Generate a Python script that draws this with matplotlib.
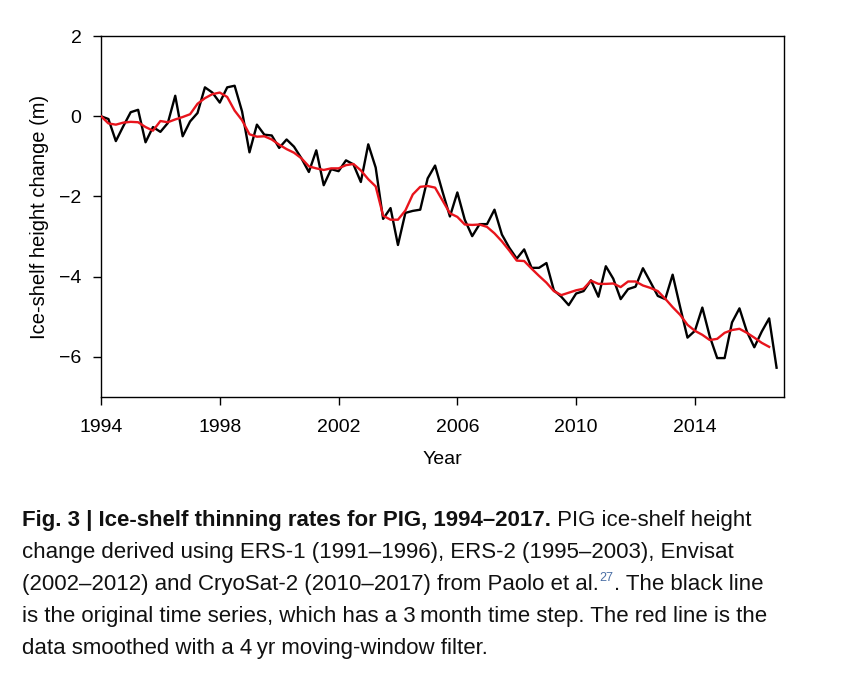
import matplotlib
matplotlib.use('Agg')
import matplotlib.pyplot as plt
import numpy as np

AX_FONT = 'Liberation Sans'
CAP_FONT = 'Liberation Sans'
plt.rcParams['font.family'] = [AX_FONT, 'DejaVu Sans']

# quarterly steps from 1994.0
START_YEAR = 1994.0
STEP = 0.25
HEIGHT_RAW = [
    0.00, -0.07, -0.62, -0.25, 0.10, 0.16, -0.65, -0.27, -0.39, -0.17,
    0.51, -0.50, -0.13, 0.08, 0.72, 0.59, 0.34, 0.72, 0.76, 0.12,
    -0.90, -0.21, -0.46, -0.48, -0.79, -0.58, -0.76, -1.05, -1.39, -0.85,
    -1.72, -1.32, -1.37, -1.10, -1.20, -1.64, -0.70, -1.28, -2.56, -2.29,
    -3.21, -2.41, -2.36, -2.33, -1.55, -1.23, -1.88, -2.50, -1.90, -2.58,
    -2.99, -2.69, -2.69, -2.33, -2.95, -3.28, -3.55, -3.32, -3.78, -3.78,
    -3.66, -4.34, -4.50, -4.71, -4.42, -4.36, -4.09, -4.50, -3.74, -4.05,
    -4.56, -4.31, -4.25, -3.79, -4.13, -4.48, -4.56, -3.95, -4.75, -5.52,
    -5.35, -4.77, -5.49, -6.03, -6.03, -5.14, -4.79, -5.37, -5.76, -5.37,
    -5.04, -6.27,
]
HEIGHT_SMOOTH = [
    0.00, -0.18, -0.21, -0.16, -0.14, -0.15, -0.27, -0.36, -0.12, -0.15,
    -0.08, -0.02, 0.05, 0.31, 0.45, 0.55, 0.59, 0.48, 0.14, -0.10,
    -0.45, -0.51, -0.50, -0.58, -0.71, -0.82, -0.91, -1.05, -1.25, -1.30,
    -1.34, -1.30, -1.30, -1.22, -1.19, -1.35, -1.57, -1.75, -2.48, -2.58,
    -2.58, -2.35, -1.95, -1.76, -1.74, -1.78, -2.10, -2.42, -2.51, -2.70,
    -2.71, -2.70, -2.76, -2.92, -3.12, -3.35, -3.60, -3.61, -3.80, -3.98,
    -4.15, -4.36, -4.46, -4.40, -4.34, -4.30, -4.10, -4.18, -4.18, -4.17,
    -4.26, -4.12, -4.12, -4.22, -4.28, -4.36, -4.55, -4.76, -4.95, -5.20,
    -5.35, -5.45, -5.58, -5.55, -5.40, -5.33, -5.30, -5.40, -5.52, -5.65,
    -5.75,
]
X_TICKS = [1994, 1998, 2002, 2006, 2010, 2014]
Y_TICKS = [2, 0, -2, -4, -6]

yr_raw = START_YEAR + STEP * np.arange(len(HEIGHT_RAW))
yr_smooth = START_YEAR + STEP * np.arange(len(HEIGHT_SMOOTH))

W, H = 845, 674
fig = plt.figure(figsize=(W / 100, H / 100), dpi=100)
ax = fig.add_axes([101 / W, 1 - 397 / H, (784 - 101) / W, (397 - 36) / H])

ax.plot(yr_raw, HEIGHT_RAW, color='black', lw=1.7, zorder=2)
ax.plot(yr_smooth, HEIGHT_SMOOTH, color='#e8141c', lw=1.7, zorder=3)

ax.set_xlim(1994, 2017)
ax.set_ylim(-7, 2)
ax.set_xticks(X_TICKS)
ax.set_yticks(Y_TICKS)
ax.tick_params(length=6, width=1.0, labelsize=14, direction='out')
ax.tick_params(axis='x', pad=10)
ax.tick_params(axis='y', pad=8)
for s in ax.spines.values():
    s.set_linewidth(1.0)
ax.set_xlabel('Year', fontsize=14, labelpad=11)
ax.set_ylabel('Ice-shelf height change (m)', fontsize=14.5, labelpad=7)

# caption with bold lead-in
X0 = 22 / W
lines_y = [526, 558, 590, 622, 654]
fs = 16
bold = 'Fig. 3 | Ice-shelf thinning rates for PIG, 1994–2017.'
rest = [
    ' PIG ice-shelf height',
    'change derived using ERS-1 (1991–1996), ERS-2 (1995–2003), Envisat',
    '(2002–2012) and CryoSat-2 (2010–2017) from Paolo et al.',
    'is the original time series, which has a 3\u2009month time step. The red line is the',
    'data smoothed with a 4\u2009yr moving-window filter.',
]
fam = [CAP_FONT, 'DejaVu Sans']
renderer = fig.canvas.get_renderer()
t = fig.text(X0, 1 - lines_y[0] / H, bold, fontsize=fs, fontweight='bold',
             family=fam, va='baseline', color='#111111')
bb = t.get_window_extent(renderer)
fig.text(bb.x1 / W, 1 - lines_y[0] / H, rest[0], fontsize=fs, family=fam,
         va='baseline', color='#111111')
for txt, yy in zip(rest[1:], lines_y[1:]):
    tt = fig.text(X0, 1 - yy / H, txt, fontsize=fs, family=fam,
                  va='baseline', color='#111111')
    if txt.endswith('al.'):
        b2 = tt.get_window_extent(renderer)
        sup = fig.text(b2.x1 / W + 0.001, 1 - (yy - 9) / H, '27', fontsize=9,
                       family=fam, va='baseline', color='#4a6fa5')
        b3 = sup.get_window_extent(renderer)
        fig.text(b3.x1 / W, 1 - yy / H, '. The black line', fontsize=fs,
                 family=fam, va='baseline', color='#111111')

fig.savefig('out.png', dpi=100, facecolor='white')
